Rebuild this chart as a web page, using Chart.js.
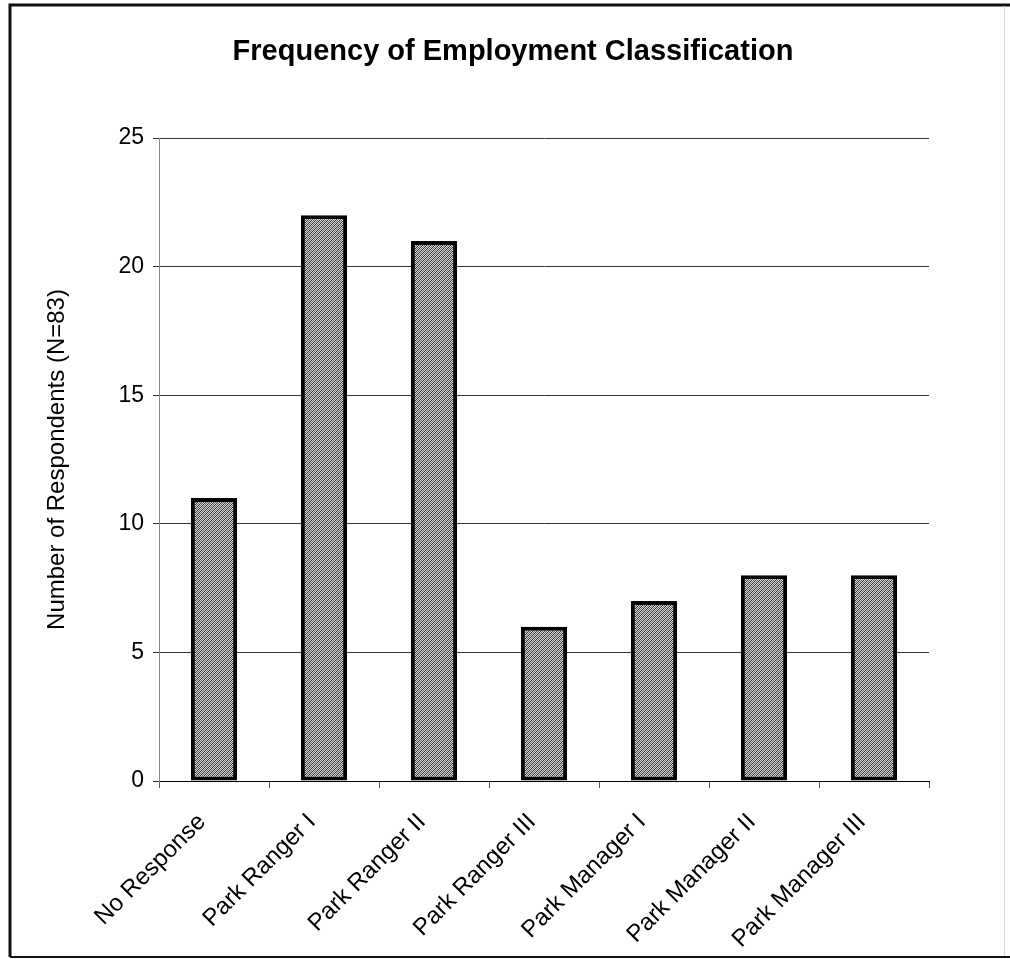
<!DOCTYPE html>
<html>
<head>
<meta charset="utf-8">
<title>Frequency of Employment Classification</title>
<script src="https://cdn.jsdelivr.net/npm/chart.js@4/dist/chart.umd.min.js"></script>
<style>
  html, body { margin: 0; padding: 0; background: #fff; }
  canvas { display: block; }
</style>
</head>
<body>
<canvas id="chart" width="1010" height="959"></canvas>
<script>
// Employment classification categories and respondent counts (N = 83)
const categories = [
  'No Response',
  'Park Ranger I',
  'Park Ranger II',
  'Park Ranger III',
  'Park Manager I',
  'Park Manager II',
  'Park Manager III'
];
const respondents = [11, 22, 21, 6, 7, 8, 8];
const yAxisMin = 0;
const yAxisMax = 25;
const yAxisStep = 5;
const chartTitle = 'Frequency of Employment Classification';
const yAxisTitle = 'Number of Respondents (N=83)';

const FONT = "'Liberation Sans', Arial, sans-serif";

// Fine diagonal hatch used to fill the bars
function hatchPattern() {
  const c = document.createElement('canvas');
  c.width = 4; c.height = 4;
  const g = c.getContext('2d');
  g.fillStyle = '#d4d4d4';
  g.fillRect(0, 0, 4, 4);
  for (let i = 0; i < 4; i++) {
    g.fillStyle = '#2e2e2e';
    g.fillRect((3 - i) % 4, i, 1, 1);
    g.fillStyle = '#6a6a6a';
    g.fillRect((5 - i) % 4, i, 1, 1);
  }
  return g.createPattern(c, 'repeat');
}

// Black frame round the whole figure, plus the heading centred on the page
const framePlugin = {
  id: 'frame',
  afterDraw(chart) {
    const ctx = chart.ctx;
    ctx.save();
    ctx.strokeStyle = '#111';
    ctx.lineWidth = 3;
    ctx.beginPath();
    ctx.moveTo(10, 957);
    ctx.lineTo(10, 5);
    ctx.lineTo(1010, 5);
    ctx.stroke();
    ctx.lineWidth = 2;
    ctx.beginPath();
    ctx.moveTo(10, 957);
    ctx.lineTo(1010, 957);
    ctx.stroke();
    ctx.strokeStyle = '#d8d8d8';
    ctx.lineWidth = 1;
    ctx.beginPath();
    ctx.moveTo(1004.5, 6);
    ctx.lineTo(1004.5, 956);
    ctx.stroke();

    ctx.fillStyle = '#000';
    ctx.font = 'bold 29px ' + FONT;
    ctx.textAlign = 'center';
    ctx.textBaseline = 'middle';
    ctx.fillText(chartTitle, 513, 52);
    ctx.restore();
  }
};

new Chart(document.getElementById('chart'), {
  type: 'bar',
  data: {
    labels: categories,
    datasets: [{
      data: respondents,
      backgroundColor: hatchPattern(),
      borderColor: '#000',
      borderWidth: 4,
      borderSkipped: false,
      barPercentage: 0.42,
      categoryPercentage: 1
    }]
  },
  options: {
    responsive: false,
    devicePixelRatio: 1,
    animation: false,
    layout: { padding: { left: 43, right: 81, top: 138, bottom: 0 } },
    plugins: {
      legend: { display: false },
      tooltip: { enabled: false },
      title: { display: false }
    },
    scales: {
      x: {
        offset: true,
        grid: {
          offset: true,
          drawOnChartArea: true,
          color: (ctx) => ctx.index === categories.length ? '#8a8a8a' : 'rgba(0,0,0,0)',
          tickColor: '#555',
          tickLength: 7,
          lineWidth: 1
        },
        border: { color: '#000', width: 1 },
        ticks: {
          color: '#000',
          font: { family: FONT, size: 24 },
          minRotation: 45,
          maxRotation: 45,
          autoSkip: false,
          padding: 20,
          labelOffset: -12
        },
        afterFit: (scale) => { scale.height = 178; }
      },
      y: {
        min: yAxisMin,
        max: yAxisMax,
        ticks: {
          stepSize: yAxisStep,
          color: '#000',
          font: { family: FONT, size: 23 },
          padding: 9
        },
        grid: { color: '#333', tickColor: '#333', tickLength: 6, lineWidth: 1 },
        border: { color: '#8a8a8a', width: 1 },
        title: {
          display: true,
          text: yAxisTitle,
          color: '#000',
          font: { family: FONT, size: 24 },
          padding: 0
        },
        afterFit: (scale) => { scale.width = 116; }
      }
    }
  },
  plugins: [framePlugin]
});
</script>
</body>
</html>
